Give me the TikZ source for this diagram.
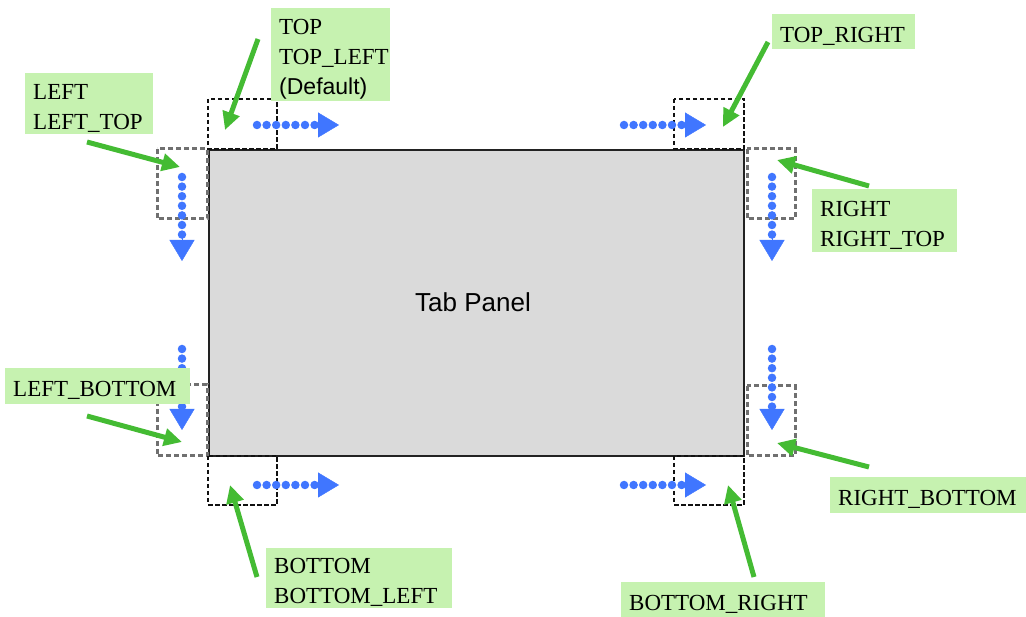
\documentclass[tikz,border=0pt]{standalone}
\usepackage{fontspec}
\setmainfont{Liberation Serif}
\newfontfamily\arsf{Liberation Sans}
\usetikzlibrary{arrows.meta}
\definecolor{lgreen}{HTML}{C6F2B0}
\definecolor{agreen}{HTML}{44BB33}
\definecolor{ablue}{HTML}{4076FF}
\definecolor{panelfill}{HTML}{DADADA}
\definecolor{panelline}{HTML}{222222}
\definecolor{dgray}{HTML}{707070}
\definecolor{dblack}{HTML}{111111}
\newcommand\lst{\rule[-2pt]{0pt}{26pt}}
\begin{document}
\begin{tikzpicture}[x=1pt,y=-1pt,
  lbl/.style 2 args={fill=lgreen, anchor=north west, inner xsep=8pt, inner ysep=0pt,
    text width=#1, minimum height=#2, align=left, font=\fontsize{23}{30}\selectfont},
  panelbox/.style={fill=panelfill, draw=panelline, line width=2.2pt},
  graybox/.style={draw=dgray, line width=3pt, dash pattern=on 5pt off 3pt},
  blackbox/.style={draw=dblack, line width=2.2pt, dash pattern=on 4.5pt off 2.5pt},
  bdots/.style={draw=ablue, line width=8.5pt, line cap=round, dash pattern=on 0pt off 9.6pt},
  bhead/.style={draw=ablue, fill=ablue, line width=0.4pt, -{Triangle[length=21pt,width=25pt]}},
  garrow/.style={draw=agreen, line width=5pt, -{Triangle[length=18pt,width=17pt]}}
]
\useasboundingbox (0,0) rectangle (1026,617);

% main panel
\node[panelbox, anchor=north west, minimum width=535pt, minimum height=306pt, inner sep=0pt] (panel) at (208,149) {};
\node[font=\arsf\fontsize{26}{30}\selectfont] (paneltext) at (473,302) {Tab Panel};

% dashed position boxes
\draw[blackbox] (208,99) rectangle (277,149);
\draw[graybox]  (157,149) rectangle (207,219);
\draw[blackbox] (674,99) rectangle (744,149);
\draw[graybox]  (747,149) rectangle (795,219);
\draw[graybox]  (157,385) rectangle (207,456);
\draw[blackbox] (208,456) rectangle (277,505);
\draw[graybox]  (747,386) rectangle (795,456);
\draw[blackbox] (674,456) rectangle (744,505);

% blue dotted arrows
\coordinate (a1s) at (257,125); \coordinate (a1b) at (318,125); \coordinate (a1t) at (339,125);
\coordinate (a2s) at (624,125); \coordinate (a2b) at (685,125); \coordinate (a2t) at (706,125);
\coordinate (a3s) at (257,485); \coordinate (a3b) at (318,485); \coordinate (a3t) at (339,485);
\coordinate (a4s) at (624,485); \coordinate (a4b) at (685,485); \coordinate (a4t) at (706,485);
\coordinate (a5s) at (182,177); \coordinate (a5b) at (182,238); \coordinate (a5t) at (182,261);
\coordinate (a6s) at (772,177); \coordinate (a6b) at (772,238); \coordinate (a6t) at (772,261);
\coordinate (a7s) at (182,349); \coordinate (a7b) at (182,408); \coordinate (a7t) at (182,430);
\coordinate (a8s) at (772,349); \coordinate (a8b) at (772,408); \coordinate (a8t) at (772,430);
\foreach \i in {1,...,8}{
  \draw[bdots] (a\i s) -- (a\i b);
  \draw[bhead] (a\i b) -- (a\i t);
}

% green arrows
\coordinate (gTs) at (258,39);  \coordinate (gTe) at (225,130);
\coordinate (gLs) at (87,142);  \coordinate (gLe) at (180,167);
\coordinate (gTRs) at (768,42); \coordinate (gTRe) at (723,127);
\coordinate (gRs) at (869,186); \coordinate (gRe) at (777,160);
\coordinate (gLBs) at (87,416); \coordinate (gLBe) at (182,442);
\coordinate (gBs) at (257,577); \coordinate (gBe) at (230,485);
\coordinate (gRBs) at (869,467); \coordinate (gRBe) at (777,443);
\coordinate (gBRs) at (754,577); \coordinate (gBRe) at (728,485);
\foreach \n in {T,L,TR,R,LB,B,RB,BR}{
  \draw[garrow] (g\n s) -- (g\n e);
}

% labels
\node[lbl={103pt}{93pt}] (lTOP) at (271,8) {TOP\lst\\TOP\_LEFT\lst\\{\arsf (Default)}\lst};
\node[lbl={112pt}{61pt}] (lLEFT) at (25,73) {LEFT\lst\\LEFT\_TOP\lst};
\node[lbl={127pt}{35pt}] (lTR) at (772,14) {TOP\_RIGHT\lst};
\node[lbl={129pt}{63pt}] (lRIGHT) at (812,189) {RIGHT\lst\\RIGHT\_TOP\lst};
\node[lbl={169pt}{36pt}] (lLB) at (5,368) {LEFT\_BOTTOM\lst};
\node[lbl={180pt}{36pt}] (lRB) at (830,477) {RIGHT\_BOTTOM\lst};
\node[lbl={170pt}{60pt}] (lBOT) at (266,548) {BOTTOM\lst\\BOTTOM\_LEFT\lst};
\node[lbl={188pt}{35pt}] (lBR) at (621,582) {BOTTOM\_RIGHT\lst};
\end{tikzpicture}
\end{document}
